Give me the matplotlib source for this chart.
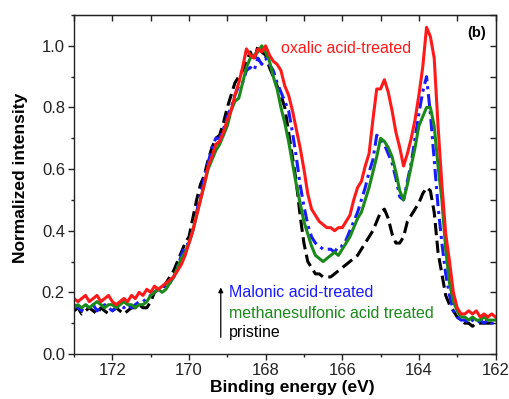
import numpy as np
import matplotlib
matplotlib.use("Agg")
import matplotlib.pyplot as plt
from matplotlib.ticker import MultipleLocator

plt.rcParams['font.family'] = ['Liberation Sans', 'DejaVu Sans']

# Binding energy grid (eV), 173.0 -> 162.0 in 0.1 eV steps
energy = np.round(np.arange(1730, 1619, -1) / 10.0, 1)

oxalic = [0.18, 0.17, 0.18, 0.19, 0.17, 0.18, 0.19, 0.17, 0.18, 0.19,
          0.17, 0.16, 0.17, 0.18, 0.17, 0.19, 0.18, 0.20, 0.19, 0.21,
          0.20, 0.22, 0.21, 0.22, 0.23, 0.24, 0.25, 0.27, 0.29, 0.32,
          0.36, 0.40, 0.45, 0.50, 0.55, 0.61, 0.64, 0.68, 0.69, 0.72,
          0.76, 0.79, 0.84, 0.88, 0.93, 0.99, 0.97, 0.96, 0.99, 0.98,
          1.00, 0.97, 0.95, 0.94, 0.92, 0.87, 0.84, 0.79, 0.73, 0.67,
          0.60, 0.52, 0.47, 0.45, 0.43, 0.42, 0.41, 0.41, 0.40, 0.41,
          0.41, 0.43, 0.45, 0.50, 0.54, 0.56, 0.61, 0.65, 0.76, 0.86,
          0.86, 0.89, 0.85, 0.79, 0.72, 0.67, 0.61, 0.65, 0.70, 0.76,
          0.84, 0.93, 1.06, 1.03, 0.96, 0.74, 0.55, 0.39, 0.30, 0.20,
          0.15, 0.13, 0.13, 0.14, 0.13, 0.14, 0.12, 0.13, 0.12, 0.13,
          0.12]

malonic = [0.16, 0.15, 0.14, 0.16, 0.15, 0.16, 0.14, 0.15, 0.16, 0.15,
           0.14, 0.15, 0.16, 0.15, 0.16, 0.15, 0.16, 0.17, 0.17, 0.18,
           0.19, 0.20, 0.21, 0.22, 0.22, 0.23, 0.25, 0.28, 0.32, 0.35,
           0.36, 0.40, 0.46, 0.52, 0.57, 0.62, 0.67, 0.70, 0.70, 0.73,
           0.77, 0.80, 0.84, 0.87, 0.88, 0.92, 0.93, 0.92, 0.96, 0.94,
           0.96, 0.94, 0.92, 0.88, 0.85, 0.82, 0.79, 0.72, 0.64, 0.55,
           0.48, 0.42, 0.38, 0.36, 0.35, 0.34, 0.34, 0.34, 0.33, 0.35,
           0.35, 0.37, 0.40, 0.43, 0.46, 0.50, 0.54, 0.59, 0.63, 0.71,
           0.70, 0.68, 0.65, 0.62, 0.57, 0.51, 0.50, 0.56, 0.62, 0.70,
           0.78, 0.85, 0.90, 0.78, 0.63, 0.48, 0.36, 0.26, 0.19, 0.14,
           0.12, 0.11, 0.11, 0.10, 0.11, 0.10, 0.11, 0.10, 0.11, 0.10,
           0.10]

methanesulfonic = [0.15, 0.16, 0.15, 0.16, 0.15, 0.16, 0.17, 0.16, 0.15, 0.16,
                   0.16, 0.15, 0.16, 0.17, 0.16, 0.16, 0.15, 0.16, 0.16, 0.17,
                   0.19, 0.20, 0.21, 0.20, 0.21, 0.23, 0.25, 0.28, 0.31, 0.33,
                   0.36, 0.40, 0.45, 0.50, 0.55, 0.60, 0.63, 0.66, 0.68, 0.71,
                   0.74, 0.79, 0.82, 0.83, 0.88, 0.93, 0.96, 0.97, 0.98, 1.00,
                   0.98, 0.95, 0.90, 0.86, 0.80, 0.75, 0.69, 0.62, 0.55, 0.49,
                   0.43, 0.39, 0.35, 0.32, 0.31, 0.30, 0.31, 0.32, 0.33, 0.32,
                   0.34, 0.36, 0.38, 0.41, 0.44, 0.46, 0.50, 0.54, 0.59, 0.64,
                   0.70, 0.69, 0.67, 0.64, 0.59, 0.53, 0.50, 0.55, 0.61, 0.67,
                   0.74, 0.77, 0.80, 0.80, 0.74, 0.61, 0.50, 0.34, 0.23, 0.17,
                   0.14, 0.12, 0.12, 0.11, 0.12, 0.11, 0.11, 0.12, 0.11, 0.11,
                   0.11]

pristine = [0.14, 0.15, 0.13, 0.14, 0.15, 0.14, 0.13, 0.15, 0.14, 0.13,
            0.14, 0.15, 0.14, 0.13, 0.14, 0.15, 0.15, 0.16, 0.15, 0.15,
            0.17, 0.20, 0.21, 0.21, 0.23, 0.25, 0.27, 0.30, 0.33, 0.36,
            0.38, 0.44, 0.50, 0.55, 0.58, 0.63, 0.67, 0.70, 0.71, 0.75,
            0.80, 0.84, 0.88, 0.90, 0.92, 0.95, 0.98, 0.95, 1.00, 0.98,
            0.97, 0.93, 0.90, 0.87, 0.84, 0.80, 0.72, 0.64, 0.56, 0.45,
            0.36, 0.30, 0.28, 0.26, 0.26, 0.25, 0.25, 0.25, 0.26, 0.27,
            0.28, 0.29, 0.30, 0.31, 0.32, 0.34, 0.36, 0.38, 0.40, 0.43,
            0.46, 0.47, 0.44, 0.39, 0.36, 0.36, 0.38, 0.43, 0.45, 0.47,
            0.49, 0.52, 0.54, 0.53, 0.46, 0.33, 0.26, 0.19, 0.16, 0.14,
            0.12, 0.11, 0.10, 0.10, 0.09, 0.10, 0.10, 0.10, 0.10, 0.10,
            0.10]

x_ticks = [172, 170, 168, 166, 164, 162]
y_ticks = [0.0, 0.2, 0.4, 0.6, 0.8, 1.0]

fig = plt.figure(figsize=(5.09, 3.99), dpi=100)
ax = fig.add_axes([0.1454, 0.1128, 0.8281, 0.8496])

lw = 2.2
ax.plot(energy, pristine, color='black', lw=lw, dashes=(4, 1.8))
ax.plot(energy, malonic, color='#1a1aff', lw=lw, dashes=(4, 1.6, 1.0, 1.6))
ax.plot(energy, methanesulfonic, color='#1a8a1a', lw=lw)
ax.plot(energy, oxalic, color='#ff1a1a', lw=lw)

ax.set_xlim(173, 162)
ax.set_ylim(0, 1.1)
ax.set_xticks(x_ticks)
ax.set_yticks(y_ticks)
ax.xaxis.set_minor_locator(MultipleLocator(1))
ax.yaxis.set_minor_locator(MultipleLocator(0.1))
ax.set_xticklabels([str(t) for t in x_ticks])
ax.set_yticklabels([f"{t:.1f}" for t in y_ticks])
ax.tick_params(which='major', direction='out', length=4, width=1, pad=2.5,
               labelsize=12, colors='#222222')
ax.tick_params(which='minor', direction='out', length=2.5, width=1, colors='#222222')
for s in ax.spines.values():
    s.set_linewidth(1)
    s.set_color('#222222')

top = ax.secondary_xaxis('top')
top.set_xticks(x_ticks)
top.xaxis.set_minor_locator(MultipleLocator(1))
top.tick_params(which='major', direction='in', length=4, width=1, labeltop=False, colors='#222222')
top.tick_params(which='minor', direction='in', length=4, width=1, colors='#222222')
right = ax.secondary_yaxis('right')
right.set_yticks(y_ticks)
right.yaxis.set_minor_locator(MultipleLocator(0.1))
right.tick_params(which='major', direction='in', length=4, width=1, labelright=False, colors='#222222')
right.tick_params(which='minor', direction='in', length=4, width=1, colors='#222222')

ax.set_xlabel('Binding energy (eV)', fontsize=12.5, fontweight='bold')
ax.set_ylabel('Normalized intensity', fontsize=12.5, fontweight='bold')
ax.xaxis.set_label_coords(0.519, -0.077)
ax.yaxis.set_label_coords(-0.110, 0.52)

ax.text(167.6, 0.99, 'oxalic acid-treated', color='#ff1a1a', fontsize=11.5, va='center', ha='left')
ax.text(162.75, 1.04, '(b)', color='black', fontsize=10.5, fontweight='bold', va='center', ha='left')
ax.text(168.96, 0.20, 'Malonic acid-treated', color='#1a1aff', fontsize=11.5, va='center', ha='left')
ax.text(168.96, 0.133, 'methanesulfonic acid treated', color='#1a8a1a', fontsize=11.5, va='center', ha='left')
ax.text(168.96, 0.07, 'pristine', color='black', fontsize=11.5, va='center', ha='left')
ax.annotate('', xy=(169.17, 0.225), xytext=(169.17, 0.045),
            arrowprops=dict(arrowstyle='-|>', color='black', lw=0.9, mutation_scale=7))

fig.savefig('out.png', dpi=100)
